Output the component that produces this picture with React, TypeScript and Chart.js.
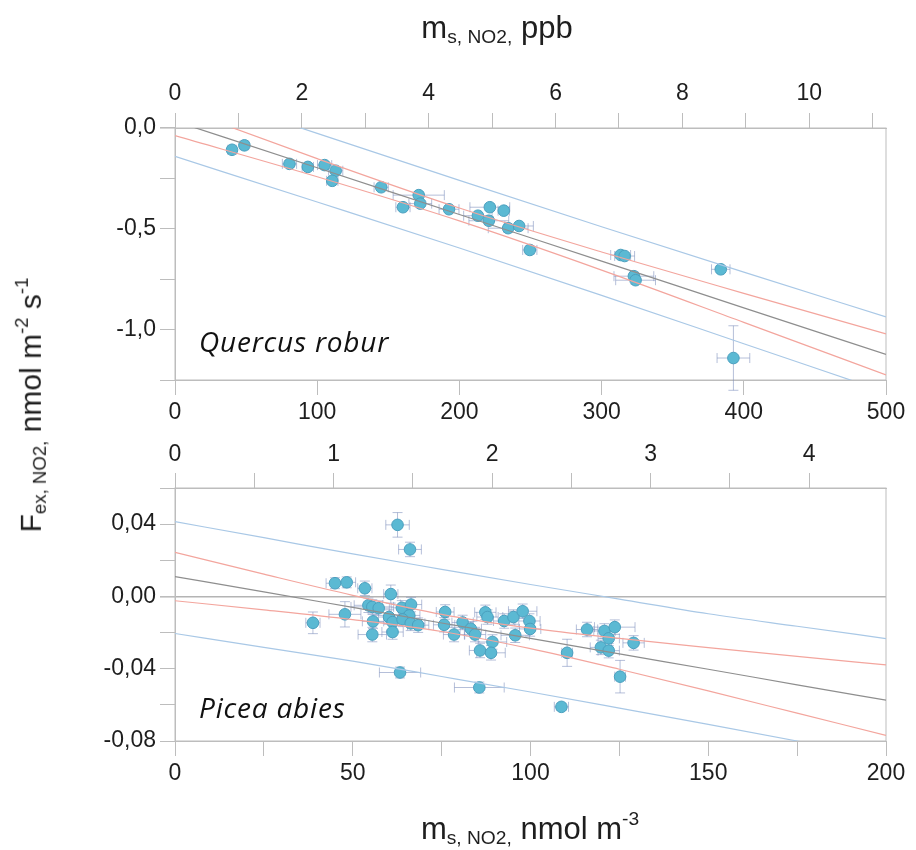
import React, { useEffect, useRef } from 'react';
import { Chart, registerables } from 'chart.js';
Chart.register(...registerables);

// conversion: nmol m-3 per ppb
const PPB_FACTOR = 44.6;

// ---------- Quercus robur (top panel) ----------
const QR_X = [40.1, 48.8, 80.5, 93.4, 105.2, 113.0, 110.6, 145.0, 160.3, 171.4, 172.5, 192.7, 213.0, 221.4, 220.7, 231.2, 234.3, 242.0, 249.5, 313.4, 316.2, 322.7, 323.9, 383.8, 392.7];
const QR_Y = [-0.108, -0.086, -0.178, -0.193, -0.184, -0.212, -0.262, -0.294, -0.393, -0.333, -0.375, -0.403, -0.435, -0.393, -0.46, -0.41, -0.497, -0.486, -0.605, -0.63, -0.635, -0.735, -0.755, -0.701, -1.141];
const QR_XERR = [3, 3, 5, 4, 5, 5, 4, 5, 5, 18, 8, 7, 10, 14, 14, 4, 14, 10, 5, 7, 7, 14, 14, 6.5, 11.5];
const QR_YERR = [0.01, 0.01, 0.015, 0.01, 0.01, 0.01, 0.015, 0.01, 0.015, 0.015, 0.015, 0.01, 0.015, 0.015, 0.02, 0.015, 0.02, 0.015, 0.02, 0.015, 0.015, 0.02, 0.02, 0.015, 0.16];
const QR_LINE_X = [0, 100, 200, 300, 400, 500];
const QR_FIT = [0.034, -0.197, -0.429, -0.66, -0.892, -1.123];
const QR_CONF_UP = [0.106, -0.152, -0.397, -0.615, -0.82, -1.021];
const QR_CONF_LO = [-0.038, -0.242, -0.461, -0.705, -0.964, -1.225];
const QR_PRED_UP = [0.21, -0.027, -0.26, -0.49, -0.715, -0.937];
const QR_PRED_LO = [-0.141, -0.367, -0.595, -0.83, -1.07, -1.31];

// ---------- Picea abies (bottom panel) ----------
const PA_X = [62.6, 66.1, 45.0, 48.3, 53.4, 60.7, 38.8, 47.8, 54.4, 55.5, 57.3, 55.7, 55.5, 60.2, 61.2, 61.2, 63.8, 66.4, 65.9, 64.0, 66.3, 68.4, 76.0, 75.7, 78.5, 80.9, 83.2, 84.4, 87.3, 87.9, 89.3, 85.8, 88.9, 92.6, 95.2, 97.8, 99.7, 99.9, 95.7, 63.3, 85.6, 108.7, 110.3, 115.9, 120.8, 123.7, 122.0, 119.8, 122.0, 129.0, 125.2];
const PA_Y = [0.0396, 0.026, 0.0073, 0.0078, 0.0045, 0.0013, -0.0146, -0.0099, -0.0049, -0.0058, -0.0065, -0.0138, -0.0211, -0.0114, -0.0142, -0.0197, -0.0063, -0.0045, -0.0105, -0.0127, -0.0149, -0.0159, -0.0086, -0.0157, -0.0211, -0.0144, -0.0179, -0.0211, -0.0088, -0.0114, -0.0252, -0.0299, -0.0312, -0.0136, -0.0114, -0.0082, -0.0136, -0.018, -0.0215, -0.0421, -0.0504, -0.0611, -0.0312, -0.0183, -0.0191, -0.017, -0.0232, -0.0282, -0.03, -0.0257, -0.0444];
const PA_XERR = [3.3, 3.2, 2.5, 2.5, 2, 2, 2, 4.5, 4, 6, 3, 3, 4, 3, 6, 3, 3, 3, 3, 3, 4, 3, 2.5, 3, 3, 3, 3, 3, 3, 3, 4, 3, 4, 3, 3, 4, 3, 3, 4, 5.8, 7, 2, 1.5, 3, 3, 5.7, 3, 3, 3, 3, 1.5];
const PA_YERR = [0.0068, 0.004, 0.003, 0.003, 0.004, 0.005, 0.006, 0.007, 0.004, 0.004, 0.004, 0.004, 0.004, 0.004, 0.004, 0.004, 0.004, 0.004, 0.004, 0.004, 0.004, 0.004, 0.004, 0.004, 0.004, 0.004, 0.004, 0.004, 0.004, 0.004, 0.004, 0.004, 0.004, 0.004, 0.004, 0.004, 0.004, 0.004, 0.004, 0.003, 0.003, 0.002, 0.0075, 0.004, 0.004, 0.004, 0.004, 0.004, 0.004, 0.004, 0.009];
const PA_LINE_X = [0, 25, 50, 75, 100, 125, 150, 175, 200];
const PA_FIT = [0.011, 0.0025, -0.0061, -0.0147, -0.0232, -0.0318, -0.0403, -0.0489, -0.0574];
const PA_CONF_UP = [0.0244, 0.0123, 0.0006, -0.0099, -0.0175, -0.0232, -0.0283, -0.0332, -0.0379];
const PA_CONF_LO = [-0.0024, -0.0074, -0.0128, -0.0194, -0.0289, -0.0403, -0.0523, -0.0646, -0.0769];
const PA_PRED_UP = [0.0414, 0.0325, 0.0235, 0.015, 0.0066, -0.0015, -0.0096, -0.0165, -0.0233];
const PA_PRED_LO = [-0.0205, -0.0282, -0.0358, -0.0443, -0.0529, -0.0618, -0.0708, -0.08, -0.0894];

const AXIS_COLOR = '#bdbdbd';
const TEXT_COLOR = '#1e1e1e';
const TICK_FONT = { family: '"Liberation Sans", Arial, sans-serif', size: 23 };
const POINT_FILL = '#5bb9d3';
const POINT_BORDER = '#4a9fbe';
const ERR_COLOR = 'rgba(120,138,185,0.55)';
const FIT_COLOR = '#8e8e8e';
const CONF_COLOR = '#f3a59d';
const PRED_COLOR = '#a9c8e6';

const pts = (xs: number[], ys: number[]) => xs.map((x, i) => ({ x, y: ys[i] }));

const errorBarPlugin = {
  id: 'errorBars',
  beforeDatasetsDraw(chart: any) {
    const { ctx, chartArea } = chart;
    const xs = chart.scales.x;
    const ys = chart.scales.y;
    ctx.save();
    ctx.strokeStyle = AXIS_COLOR;
    ctx.lineWidth = 1;
    ctx.strokeRect(chartArea.left, chartArea.top, chartArea.right - chartArea.left, chartArea.bottom - chartArea.top);
    chart.data.datasets.forEach((ds: any) => {
      if (!ds.errX) return;
      ctx.strokeStyle = ERR_COLOR;
      ctx.lineWidth = 1;
      const cap = 5;
      ds.data.forEach((p: any, j: number) => {
        const px = xs.getPixelForValue(p.x);
        const py = ys.getPixelForValue(p.y);
        const x0 = xs.getPixelForValue(p.x - ds.errX[j]);
        const x1 = xs.getPixelForValue(p.x + ds.errX[j]);
        const y0 = ys.getPixelForValue(p.y - ds.errY[j]);
        const y1 = ys.getPixelForValue(p.y + ds.errY[j]);
        ctx.beginPath();
        ctx.moveTo(x0, py); ctx.lineTo(x1, py);
        ctx.moveTo(x0, py - cap); ctx.lineTo(x0, py + cap);
        ctx.moveTo(x1, py - cap); ctx.lineTo(x1, py + cap);
        ctx.moveTo(px, y0); ctx.lineTo(px, y1);
        ctx.moveTo(px - cap, y0); ctx.lineTo(px + cap, y0);
        ctx.moveTo(px - cap, y1); ctx.lineTo(px + cap, y1);
        ctx.stroke();
      });
    });
    ctx.restore();
  },
};

function lineDs(xs: number[], ys: number[], color: string) {
  return {
    type: 'line',
    data: pts(xs, ys),
    borderColor: color,
    borderWidth: 1.2,
    pointRadius: 0,
    showLine: true,
    fill: false,
    cubicInterpolationMode: 'monotone',
    clip: 0,
    xAxisID: 'x',
    yAxisID: 'y',
  };
}

function makeConfig(opts: {
  xs: number[]; ys: number[]; xerr: number[]; yerr: number[];
  lx: number[]; fit: number[]; cu: number[]; cl: number[]; pu: number[]; pl: number[];
  xMax: number; xStep: number; xTopStep: number;
  yMin: number; yMax: number; yStep: number; yLabelEvery: number; yDec: number;
  bottomH: number; topH: number; zeroLine: boolean; topPad: number;
}) {
  const fixH = (h: number) => (s: any) => { s.height = h; };
  const gridBase = {
    drawOnChartArea: false,
    drawTicks: true,
    tickLength: 15,
    color: AXIS_COLOR,
    tickColor: AXIS_COLOR,
  };
  return {
    type: 'scatter',
    data: {
      datasets: [
        lineDs(opts.lx, opts.pu, PRED_COLOR),
        lineDs(opts.lx, opts.pl, PRED_COLOR),
        lineDs(opts.lx, opts.cu, CONF_COLOR),
        lineDs(opts.lx, opts.cl, CONF_COLOR),
        lineDs(opts.lx, opts.fit, FIT_COLOR),
        {
          type: 'scatter',
          data: pts(opts.xs, opts.ys),
          errX: opts.xerr,
          errY: opts.yerr,
          backgroundColor: POINT_FILL,
          borderColor: POINT_BORDER,
          borderWidth: 1,
          pointRadius: 5.8,
          xAxisID: 'x',
          yAxisID: 'y',
        },
      ],
    },
    options: {
      responsive: false,
      animation: false,
      events: [],
      layout: { padding: { left: 0, right: 30, top: 0, bottom: 0 } },
      plugins: { legend: { display: false }, tooltip: { enabled: false } },
      scales: {
        x: {
          type: 'linear',
          position: 'bottom',
          min: 0,
          max: opts.xMax,
          afterFit: fixH(opts.bottomH),
          border: { color: AXIS_COLOR, width: 1 },
          grid: gridBase,
          ticks: {
            stepSize: opts.xStep,
            autoSkip: false,
            maxRotation: 0,
            padding: 4,
            color: TEXT_COLOR,
            font: TICK_FONT,
            includeBounds: false,
            callback: (v: number) => {
              const r = Math.round(v / opts.xStep);
              return r % 2 === 0 || opts.xStep === 100 ? String(Math.round(v)) : '';
            },
          },
        },
        xTop: {
          type: 'linear',
          position: 'top',
          min: 0,
          max: opts.xMax / PPB_FACTOR,
          afterFit: fixH(opts.topH),
          border: { color: AXIS_COLOR, width: 1 },
          grid: gridBase,
          ticks: {
            stepSize: opts.xTopStep,
            autoSkip: false,
            maxRotation: 0,
            padding: opts.topPad,
            color: TEXT_COLOR,
            font: TICK_FONT,
            includeBounds: false,
            callback: (v: number) => {
              const r = Math.round(v / opts.xTopStep);
              return r % 2 === 0 ? String(Math.round(v)) : '';
            },
          },
        },
        y: {
          type: 'linear',
          position: 'left',
          min: opts.yMin,
          max: opts.yMax,
          afterFit: (s: any) => { s.width = 175; },
          border: { color: AXIS_COLOR, width: 1 },
          grid: {
            drawOnChartArea: opts.zeroLine,
            drawTicks: true,
            tickLength: 15,
            lineWidth: (c: any) => (c.tick && Math.abs(c.tick.value) < 1e-9 ? 1.6 : 1),
            color: (c: any) => (opts.zeroLine && c.tick && Math.abs(c.tick.value) < 1e-9 ? '#b4b4b4' : 'rgba(0,0,0,0)'),
            tickColor: AXIS_COLOR,
          },
          ticks: {
            stepSize: opts.yStep,
            autoSkip: false,
            padding: 4,
            color: TEXT_COLOR,
            font: TICK_FONT,
            includeBounds: false,
            callback: (v: number) => {
              const r = Math.round(v / opts.yStep);
              if (r % opts.yLabelEvery !== 0) return '';
              const s = Math.abs(v) < 1e-9 ? (0).toFixed(opts.yDec) : v.toFixed(opts.yDec);
              return s.replace('.', ',');
            },
          },
        },
      },
    },
    plugins: [errorBarPlugin],
  };
}

export default function App() {
  const topRef = useRef<HTMLCanvasElement>(null);
  const botRef = useRef<HTMLCanvasElement>(null);

  useEffect(() => {
    const c1 = new Chart(topRef.current as any, makeConfig({
      xs: QR_X, ys: QR_Y, xerr: QR_XERR, yerr: QR_YERR,
      lx: QR_LINE_X, fit: QR_FIT, cu: QR_CONF_UP, cl: QR_CONF_LO, pu: QR_PRED_UP, pl: QR_PRED_LO,
      xMax: 500, xStep: 100, xTopStep: 1,
      yMin: -1.25, yMax: 0, yStep: 0.25, yLabelEvery: 2, yDec: 1,
      bottomH: 45, topH: 128, zeroLine: false, topPad: 6,
    }) as any);
    const c2 = new Chart(botRef.current as any, makeConfig({
      xs: PA_X, ys: PA_Y, xerr: PA_XERR, yerr: PA_YERR,
      lx: PA_LINE_X, fit: PA_FIT, cu: PA_CONF_UP, cl: PA_CONF_LO, pu: PA_PRED_UP, pl: PA_PRED_LO,
      xMax: 200, xStep: 25, xTopStep: 0.5,
      yMin: -0.08, yMax: 0.06, yStep: 0.02, yLabelEvery: 2, yDec: 2,
      bottomH: 109, topH: 63, zeroLine: true, topPad: 5,
    }) as any);
    return () => { c1.destroy(); c2.destroy(); };
  }, []);

  const titleFont = '"Liberation Sans", Arial, sans-serif';
  const subStyle: React.CSSProperties = { fontSize: '0.62em', verticalAlign: '-0.25em' };
  const supStyle: React.CSSProperties = { fontSize: '0.62em', verticalAlign: '0.7em' };
  const speciesStyle: React.CSSProperties = {
    position: 'absolute', fontFamily: '"Open Sans", sans-serif', fontStyle: 'italic',
    fontSize: 28, letterSpacing: 0.8, color: '#111', whiteSpace: 'nowrap', lineHeight: 1,
  };

  return (
    <div style={{ position: 'absolute', left: 0, top: 0, width: 916, height: 850, background: '#fff', overflow: 'hidden' }}>
      <canvas ref={topRef} width={916} height={425} style={{ position: 'absolute', left: 0, top: 0 }} />
      <canvas ref={botRef} width={916} height={425} style={{ position: 'absolute', left: 0, top: 425 }} />
      <div style={{ position: 'absolute', left: 497, top: 29, transform: 'translate(-50%,-50%)', fontFamily: titleFont, fontSize: 31, color: TEXT_COLOR, whiteSpace: 'nowrap', lineHeight: 1 }}>
        m<span style={subStyle}>s, NO2,</span> ppb
      </div>
      <div style={{ position: 'absolute', left: 530, top: 828, transform: 'translate(-50%,-50%)', fontFamily: titleFont, fontSize: 31, color: TEXT_COLOR, whiteSpace: 'nowrap', lineHeight: 1 }}>
        m<span style={subStyle}>s, NO2,</span> nmol m<span style={supStyle}>-3</span>
      </div>
      <div style={{ position: 'absolute', left: 31, top: 405, transform: 'translate(-50%,-50%) rotate(-90deg)', fontFamily: titleFont, fontSize: 30, color: TEXT_COLOR, whiteSpace: 'nowrap', lineHeight: 1 }}>
        F<span style={subStyle}>ex, NO2,</span> nmol m<span style={supStyle}>-2</span> s<span style={supStyle}>-1</span>
      </div>
      <div style={{ ...speciesStyle, left: 199, top: 327 }}>Quercus robur</div>
      <div style={{ ...speciesStyle, left: 199, top: 693 }}>Picea abies</div>
    </div>
  );
}
